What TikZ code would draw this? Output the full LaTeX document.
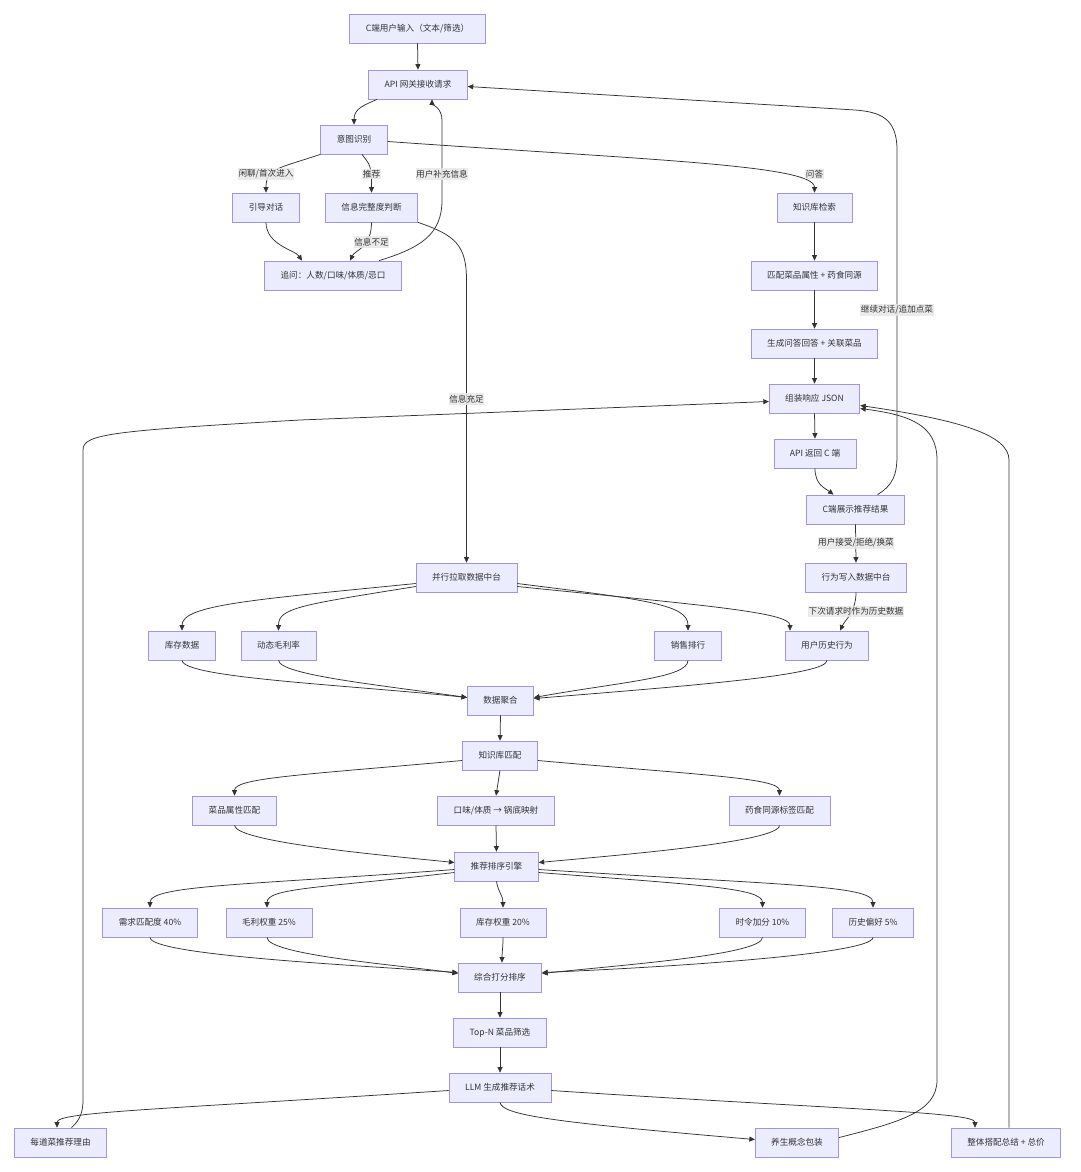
\documentclass[tikz,border=0pt]{standalone}
\usepackage{fontspec}
\setmainfont{Noto Sans CJK SC}
\usetikzlibrary{arrows.meta,calc}
\definecolor{nfill}{HTML}{ECECFF}
\definecolor{nline}{HTML}{A693E0}
\definecolor{ink}{HTML}{333333}
\definecolor{lblbg}{HTML}{E8E8E8}
\newcommand\nodefont{\fontsize{8.6}{10}\selectfont}
\begin{document}
\begin{tikzpicture}[x=1pt,y=-1pt,
  box/.style={rectangle, draw=nline, line width=0.7pt, fill=nfill, minimum height=29pt, inner xsep=16pt, inner ysep=0pt, text=ink, font=\nodefont},
  lbl/.style={fill=lblbg, fill opacity=0.85, text opacity=1, text=ink, inner xsep=0.5pt, inner ysep=1.5pt, font=\nodefont},
  edge/.style={draw=ink, line width=0.75pt, -{Triangle[length=5.5pt,width=5pt]}}]
\fill[white] (0,0) rectangle (1080,1172);
\useasboundingbox (0,0) rectangle (1080,1172);

% nodes
\node[box] (in) at (417.5,28.5) {C端用户输入（文本/筛选）};
\node[box] (api) at (418,84.5) {API 网关接收请求};
\node[box] (intent) at (354,139.5) {意图识别};
\node[box] (guide) at (266,207.5) {引导对话};
\node[box] (info) at (371.5,207.5) {信息完整度判断};
\node[box] (ask) at (333,275.5) {追问：人数/口味/体质/忌口};
\node[box] (kbs) at (814.5,207.5) {知识库检索};
\node[box] (match) at (814.5,275.5) {匹配菜品属性\ + 药食同源};
\node[box] (gen) at (814.5,343.5) {生成问答回答\ + 关联菜品};
\node[box] (json) at (814.5,398.5) {组装响应 JSON};
\node[box] (ret) at (815,453.5) {API 返回 C 端};
\node[box] (show) at (855.5,509.5) {C端展示推荐结果};
\node[box] (write) at (856,577.5) {行为写入数据中台};
\node[box] (pull) at (466.5,577.5) {并行拉取数据中台};
\node[box] (stock) at (182,645.5) {库存数据};
\node[box] (margin) at (278.5,645.5) {动态毛利率};
\node[box] (sales) at (688,645.5) {销售排行};
\node[box] (hist) at (827,645.5) {用户历史行为};
\node[box] (agg) at (500.5,700.5) {数据聚合};
\node[box] (kbm) at (500,755.5) {知识库匹配};
\node[box] (attr) at (234.5,810.5) {菜品属性匹配};
\node[box] (map) at (496,810.5) {口味/体质 → 锅底映射};
\node[box] (tag) at (779.5,810.5) {药食同源标签匹配};
\node[box] (rank) at (496.5,866.5) {推荐排序引擎};
\node[box] (w1) at (150,922.5) {需求匹配度 40\%};
\node[box] (w2) at (269,922.5) {毛利权重 25\%};
\node[box] (w3) at (503,922.5) {库存权重 20\%};
\node[box] (w4) at (762.5,922.5) {时令加分 10\%};
\node[box] (w5) at (873,922.5) {历史偏好 5\%};
\node[box] (score) at (500,977.5) {综合打分排序};
\node[box] (topn) at (500,1032.5) {Top-N 菜品筛选};
\node[box] (llm) at (500,1087.5) {LLM 生成推荐话术};
\node[box] (reason) at (60.5,1142.5) {每道菜推荐理由};
\node[box] (health) at (797,1142.5) {养生概念包装};
\node[box] (summary) at (1006,1142.5) {整体搭配总结\ + 总价};

% edges
\draw[edge] (in.south) -- (api.north);
\draw[edge] ($(api.south)+(-41,0)$) .. controls (365,105) and (354,108) .. (intent.north);
\draw[edge] (intent.south west) .. controls (280,168) and (266,168) .. (guide.north);
\draw[edge] ($(intent.south)+(8,0)$) .. controls (370,165) and (371.5,165) .. (info.north);
\draw[edge] ($(intent.east)+(0,2)$) .. controls (650,160) and (814.5,165) .. (kbs.north);
\draw[edge] (guide.south) .. controls (266,245) and (295,250) .. ($(ask.north)+(-31,0)$);
\draw[edge] (info.south) .. controls (371.5,248) and (355,250) .. ($(ask.north)+(17,0)$);
\draw[edge] ($(ask.north)+(46,0)$) .. controls (420,248) and (442,235) .. (442,200) -- (442,120) .. controls (442,108) and (432,104) .. ($(api.south)+(14,0)$);
\draw[edge] (info.south east) .. controls (455,235) and (466.5,245) .. (466.5,280) -- (pull.north);
\draw[edge] (kbs.south) -- (match.north);
\draw[edge] (match.south) -- (gen.north);
\draw[edge] (gen.south) -- (json.north);
\draw[edge] (json.south) -- (ret.north);
\draw[edge] (ret.south) .. controls (815,485) and (825,488) .. ($(show.north)+(-22,0)$);
\draw[edge] ($(show.north)+(22,0)$) .. controls (893,485) and (897,475) .. (897,455) -- (897,150) .. controls (897,118) and (880,112) .. (855,110) -- ($(api.east)+(0,2)$);
\draw[edge] (show.south) -- (write.north);
\draw[edge] (write.south) .. controls (856,612) and (845,620) .. ($(hist.north)+(13,0)$);
\draw[edge] ($(pull.west)+(0,6)$) .. controls (250,600) and (182,605) .. (stock.north);
\draw[edge] ($(pull.west)+(0,9)$) .. controls (300,605) and (278.5,608) .. (margin.north);
\draw[edge] ($(pull.east)+(0,6)$) .. controls (650,600) and (688,605) .. (sales.north);
\draw[edge] ($(pull.east)+(0,9)$) .. controls (700,605) and (790,612) .. ($(hist.north)+(-37,0)$);
\draw[edge] (stock.south) .. controls (183,678) and (350,685) .. ($(agg.west)+(0,-3)$);
\draw[edge] (margin.south) .. controls (280,675) and (380,685) .. ($(agg.west)+(0,-3)$);
\draw[edge] (sales.south) .. controls (688,678) and (620,682) .. ($(agg.east)+(0,-3)$);
\draw[edge] (hist.south) .. controls (827,675) and (700,685) .. ($(agg.east)+(0,-2)$);
\draw[edge] (agg.south) -- (kbm.north);
\draw[edge] ($(kbm.west)+(0,5)$) .. controls (300,775) and (234.5,778) .. (attr.north);
\draw[edge] (kbm.south) -- (map.north);
\draw[edge] ($(kbm.east)+(0,5)$) .. controls (700,775) and (779.5,778) .. (tag.north);
\draw[edge] (attr.south) .. controls (236,842) and (380,855) .. ($(rank.west)+(0,-4)$);
\draw[edge] (map.south) -- (rank.north);
\draw[edge] (tag.south) .. controls (779.5,842) and (620,855) .. ($(rank.east)+(0,-4)$);
\draw[edge] ($(rank.west)+(0,3)$) .. controls (250,885) and (150,885) .. (w1.north);
\draw[edge] ($(rank.west)+(0,6)$) .. controls (320,888) and (267,888) .. ($(w2.north)+(-2,0)$);
\draw[edge] (rank.south) .. controls (498,892) and (503,895) .. (w3.north);
\draw[edge] ($(rank.east)+(0,6)$) .. controls (700,885) and (762.5,888) .. (w4.north);
\draw[edge] ($(rank.east)+(0,3)$) .. controls (780,885) and (873,885) .. (w5.north);
\draw[edge] (w1.south) .. controls (150,955) and (350,965) .. ($(score.west)+(0,-5)$);
\draw[edge] ($(w2.south)+(-2,0)$) .. controls (267,955) and (400,965) .. ($(score.west)+(0,-4)$);
\draw[edge] (w3.south) .. controls (503,948) and (502,952) .. ($(score.north)+(2,0)$);
\draw[edge] (w4.south) .. controls (762.5,955) and (620,965) .. ($(score.east)+(0,-4)$);
\draw[edge] (w5.south) .. controls (873,955) and (650,968) .. ($(score.east)+(0,-5)$);
\draw[edge] (score.south) -- (topn.north);
\draw[edge] (topn.south) -- (llm.north);
\draw[edge] ($(llm.west)+(0,3)$) .. controls (150,1110) and (57,1112) .. ($(reason.north)+(-3.5,0)$);
\draw[edge] (llm.south) .. controls (502,1115) and (550,1122) .. ($(health.west)+(0,-3)$);
\draw[edge] ($(llm.east)+(0,3)$) .. controls (850,1110) and (975,1112) .. ($(summary.north)+(-31,0)$);
\draw[edge] ($(reason.north)+(11,0)$) .. controls (80,1120) and (83,1112) .. (83,1100) -- (83,450) .. controls (83,434) and (110,431) .. (300,420) -- ($(json.west)+(0,3)$);
\draw[edge] ($(health.east)+(0,-5)$) .. controls (900,1122) and (937,1112) .. (937,1080) -- (937,460) .. controls (937,425) and (910,415) .. ($(json.east)+(0,10)$);
\draw[edge] ($(summary.north)+(3,0)$) -- (1009,460) .. controls (1009,435) and (960,420) .. ($(json.east)+(0,7)$);

% edge labels
\node[lbl] (l1) at (266,174) {闲聊/首次进入};
\node[lbl] (l2) at (371.5,174) {推荐};
\node[lbl] (l3) at (442,174) {用户补充信息};
\node[lbl] (l4) at (814.5,174) {问答};
\node[lbl] (l5) at (371.5,242) {信息不足};
\node[lbl] (l6) at (466.5,399) {信息充足};
\node[lbl] (l7) at (897,310) {继续对话/追加点菜};
\node[lbl] (l8) at (856,543) {用户接受/拒绝/换菜};
\node[lbl] (l9) at (856,611.5) {下次请求时作为历史数据};
\end{tikzpicture}
\end{document}
